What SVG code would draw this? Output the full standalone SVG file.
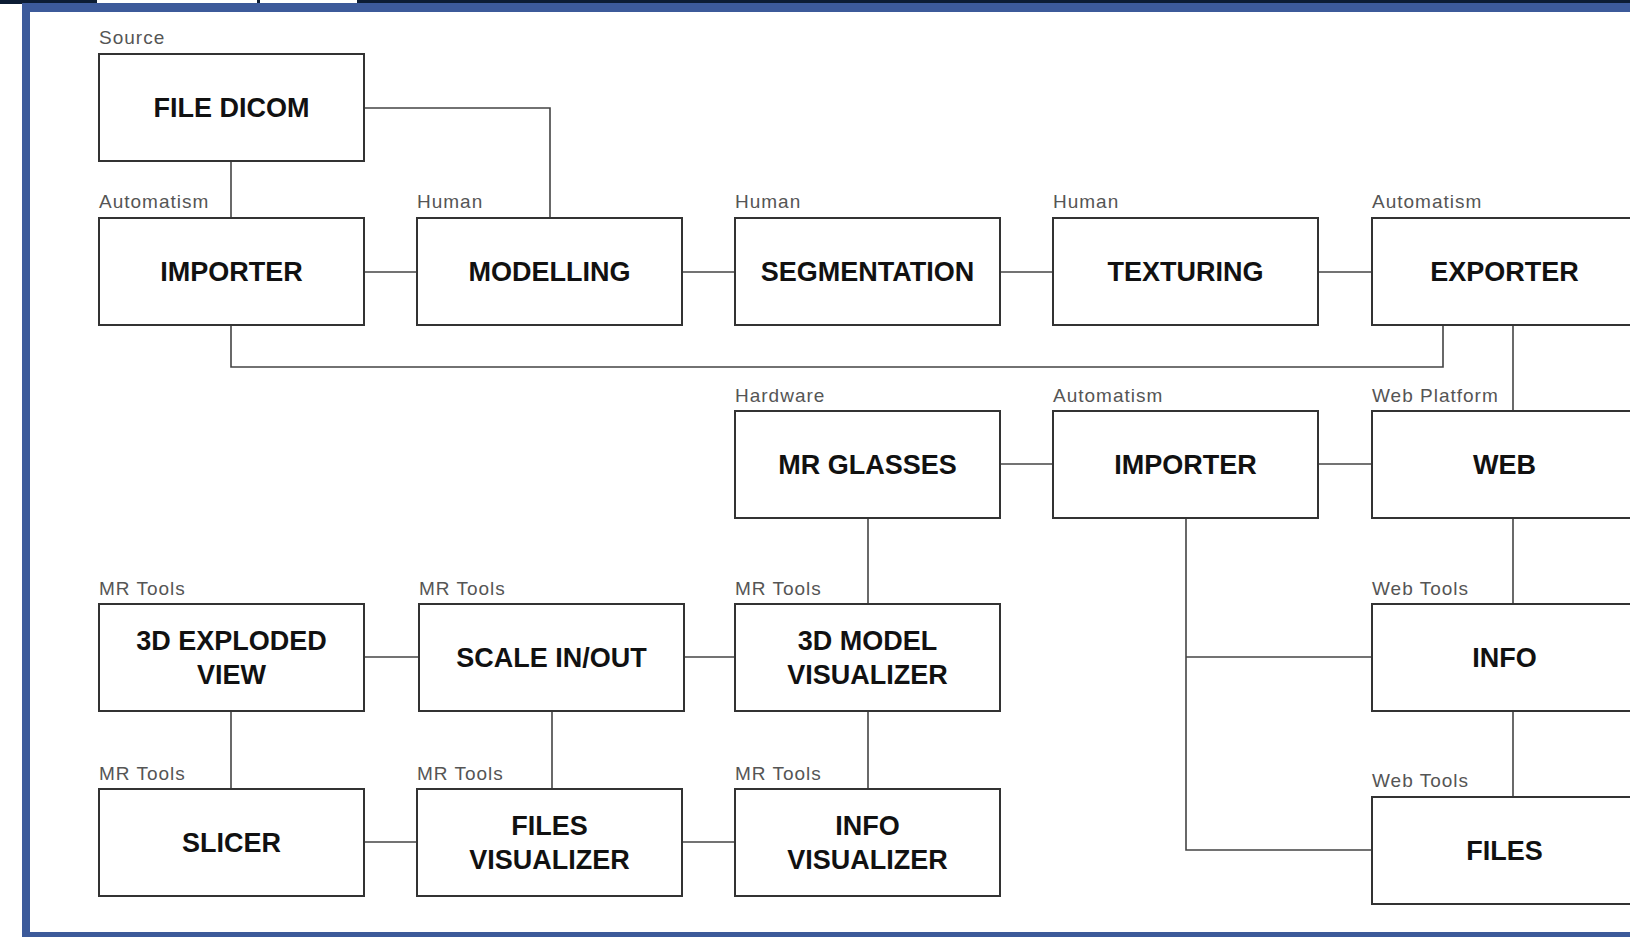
<svg xmlns="http://www.w3.org/2000/svg" width="1630" height="937" viewBox="0 0 1630 937">
<style>
.box{fill:#fff;stroke:#333;stroke-width:2}
.t{font-family:"Liberation Sans",Arial,sans-serif;font-weight:bold;font-size:27px;fill:#111;text-anchor:middle;dominant-baseline:central}
.l{font-family:"Liberation Sans",Arial,sans-serif;font-size:19px;fill:#555;letter-spacing:1px}
.c path{fill:none;stroke:#444;stroke-width:1.6}
</style>
<rect x="0" y="0" width="1630" height="937" fill="#fff"/>
<rect x="0" y="0" width="1630" height="4" fill="#0c1c33"/>
<rect x="97" y="0" width="160" height="3" fill="#fff"/>
<rect x="260" y="0" width="97" height="3" fill="#fff"/>
<rect x="22" y="3" width="1608" height="9" fill="#3c5a9a"/>
<rect x="22" y="3" width="8" height="934" fill="#3c5a9a"/>
<rect x="22" y="932" width="1608" height="5" fill="#3c5a9a"/>

<g class="c" id="connectors">
<path d="M364 108 H550 V217"/>
<path d="M231 161 V217"/>
<path d="M364 272 H417"/>
<path d="M682 272 H735"/>
<path d="M1000 272 H1053"/>
<path d="M1318 272 H1372"/>
<path d="M231 325 V367 H1443 V325"/>
<path d="M1513 325 V411"/>
<path d="M1000 464 H1053"/>
<path d="M1318 464 H1372"/>
<path d="M868 518 V603"/>
<path d="M1186 518 V850 H1372"/>
<path d="M1186 657 H1372"/>
<path d="M1513 518 V603"/>
<path d="M1513 711 V796"/>
<path d="M364 657 H419"/>
<path d="M684 657 H735"/>
<path d="M231 711 V789"/>
<path d="M552 711 V789"/>
<path d="M868 711 V789"/>
<path d="M364 842 H417"/>
<path d="M682 842 H735"/>
</g>

<g id="file-dicom"><text class="l" x="99" y="44">Source</text><rect class="box" x="99" y="54" width="265" height="107"/><text class="t" x="231.5" y="108">FILE DICOM</text></g>

<g id="importer1"><text class="l" x="99" y="208">Automatism</text><rect class="box" x="99" y="218" width="265" height="107"/><text class="t" x="231.5" y="272">IMPORTER</text></g>
<g id="modelling"><text class="l" x="417" y="208">Human</text><rect class="box" x="417" y="218" width="265" height="107"/><text class="t" x="549.5" y="272">MODELLING</text></g>
<g id="segmentation"><text class="l" x="735" y="208">Human</text><rect class="box" x="735" y="218" width="265" height="107"/><text class="t" x="867.5" y="272">SEGMENTATION</text></g>
<g id="texturing"><text class="l" x="1053" y="208">Human</text><rect class="box" x="1053" y="218" width="265" height="107"/><text class="t" x="1185.5" y="272">TEXTURING</text></g>
<g id="exporter"><text class="l" x="1372" y="208">Automatism</text><rect class="box" x="1372" y="218" width="270" height="107"/><text class="t" x="1504.5" y="272">EXPORTER</text></g>

<g id="mr-glasses"><text class="l" x="735" y="402">Hardware</text><rect class="box" x="735" y="411" width="265" height="107"/><text class="t" x="867.5" y="465">MR GLASSES</text></g>
<g id="importer2"><text class="l" x="1053" y="402">Automatism</text><rect class="box" x="1053" y="411" width="265" height="107"/><text class="t" x="1185.5" y="465">IMPORTER</text></g>
<g id="web"><text class="l" x="1372" y="402">Web Platform</text><rect class="box" x="1372" y="411" width="270" height="107"/><text class="t" x="1504.5" y="465">WEB</text></g>

<g id="exploded"><text class="l" x="99" y="595">MR Tools</text><rect class="box" x="99" y="604" width="265" height="107"/><text class="t" x="231.5" y="641">3D EXPLODED</text><text class="t" x="231.5" y="675">VIEW</text></g>
<g id="scale"><text class="l" x="419" y="595">MR Tools</text><rect class="box" x="419" y="604" width="265" height="107"/><text class="t" x="551.5" y="658">SCALE IN/OUT</text></g>
<g id="model-visualizer"><text class="l" x="735" y="595">MR Tools</text><rect class="box" x="735" y="604" width="265" height="107"/><text class="t" x="867.5" y="641">3D MODEL</text><text class="t" x="867.5" y="675">VISUALIZER</text></g>
<g id="info"><text class="l" x="1372" y="595">Web Tools</text><rect class="box" x="1372" y="604" width="270" height="107"/><text class="t" x="1504.5" y="658">INFO</text></g>

<g id="slicer"><text class="l" x="99" y="780">MR Tools</text><rect class="box" x="99" y="789" width="265" height="107"/><text class="t" x="231.5" y="843">SLICER</text></g>
<g id="files-visualizer"><text class="l" x="417" y="780">MR Tools</text><rect class="box" x="417" y="789" width="265" height="107"/><text class="t" x="549.5" y="826">FILES</text><text class="t" x="549.5" y="860">VISUALIZER</text></g>
<g id="info-visualizer"><text class="l" x="735" y="780">MR Tools</text><rect class="box" x="735" y="789" width="265" height="107"/><text class="t" x="867.5" y="826">INFO</text><text class="t" x="867.5" y="860">VISUALIZER</text></g>
<g id="files"><text class="l" x="1372" y="787">Web Tools</text><rect class="box" x="1372" y="797" width="270" height="107"/><text class="t" x="1504.5" y="851">FILES</text></g>
</svg>
